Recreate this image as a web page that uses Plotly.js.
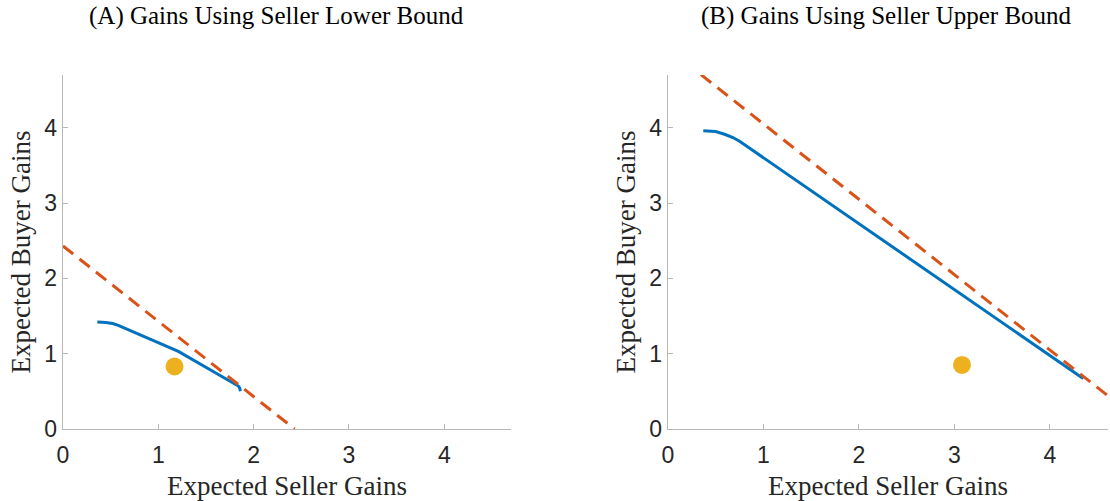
<!DOCTYPE html>
<html>
<head>
<meta charset="utf-8">
<script src="https://cdn.plot.ly/plotly-3.0.1.min.js"></script>
<style>html,body{margin:0;padding:0;background:#fff;}#chart{width:1110px;height:501px;}</style>
</head>
<body>
<div id="chart"></div>
<script>
// Panel A: Gains Using Seller Lower Bound
const frontierA_seller = [0.36, 0.45, 0.52, 0.58, 1.21, 1.84, 1.855, 1.86];
const frontierA_buyer  = [1.42, 1.415, 1.40, 1.375, 1.03, 0.57, 0.54, 0.50];
const boundA_seller = [0, 2.43];
const boundA_buyer  = [2.43, 0];
const pointA_seller = [1.17];
const pointA_buyer  = [0.83];

// Panel B: Gains Using Seller Upper Bound
const frontierB_seller = [0.37, 0.50, 0.60, 0.68, 0.75, 4.35];
const frontierB_buyer  = [3.96, 3.95, 3.91, 3.87, 3.82, 0.67];
const boundB_seller = [0, 4.7];
const boundB_buyer  = [5.05, 0.35];
const pointB_seller = [3.08];
const pointB_buyer  = [0.85];

const titles = ["(A) Gains Using Seller Lower Bound", "(B) Gains Using Seller Upper Bound"];
const xTitle = "Expected Seller Gains";
const yTitle = "Expected Buyer Gains";
const tickVals = [0, 1, 2, 3, 4];

const BLUE = '#0072BD', ORANGE = '#D95319', YELLOW = '#EDB120';
const serif = '"Liberation Serif", "DejaVu Serif", serif';
const sans = '"Liberation Sans", Arial, sans-serif';

function frontier(x, y, ax) {
  return {x: x, y: y, xaxis: ax[0], yaxis: ax[1], mode: 'lines', type: 'scatter',
    line: {color: BLUE, width: 3}, hoverinfo: 'skip', showlegend: false};
}
function bound(x, y, ax) {
  return {x: x, y: y, xaxis: ax[0], yaxis: ax[1], mode: 'lines', type: 'scatter',
    line: {color: ORANGE, width: 3, dash: '13px,8px'}, hoverinfo: 'skip', showlegend: false};
}
function point(x, y, ax) {
  return {x: x, y: y, xaxis: ax[0], yaxis: ax[1], mode: 'markers', type: 'scatter',
    marker: {color: YELLOW, size: 18}, hoverinfo: 'skip', showlegend: false};
}

const data = [
  frontier(frontierA_seller, frontierA_buyer, ['x', 'y']),
  bound(boundA_seller, boundA_buyer, ['x', 'y']),
  point(pointA_seller, pointA_buyer, ['x', 'y']),
  frontier(frontierB_seller, frontierB_buyer, ['x2', 'y2']),
  bound(boundB_seller, boundB_buyer, ['x2', 'y2']),
  point(pointB_seller, pointB_buyer, ['x2', 'y2'])
];

const W = 1110, H = 501;
function axisCommon() {
  return {
    showline: true, linecolor: '#b8b8b8', linewidth: 1.3,
    ticks: 'inside', ticklen: 5, tickcolor: '#b8b8b8', tickwidth: 1,
    showgrid: false, zeroline: false, mirror: false,
    tickfont: {family: sans, size: 23, color: '#262626'},
    tickvals: tickVals, fixedrange: true
  };
}
const yDom = [(H - 429) / H, (H - 75) / H];
const axTitleFont = {family: serif, size: 27, color: '#262626'};

const layout = {
  width: W, height: H,
  margin: {l: 0, r: 0, t: 0, b: 0},
  paper_bgcolor: '#fff', plot_bgcolor: '#fff',
  showlegend: false,
  xaxis: Object.assign(axisCommon(), {domain: [63 / W, 511 / W], range: [0, 4.7], anchor: 'y',
    ticklabelstandoff: 5, title: {text: xTitle, font: axTitleFont, standoff: 10}}),
  yaxis: Object.assign(axisCommon(), {domain: yDom, range: [0, 4.7], anchor: 'x',
    title: {text: yTitle, font: axTitleFont, standoff: 6}}),
  xaxis2: Object.assign(axisCommon(), {domain: [668 / W, 1108 / W], range: [0, 4.61], anchor: 'y2',
    ticklabelstandoff: 5, title: {text: xTitle, font: axTitleFont, standoff: 10}}),
  yaxis2: Object.assign(axisCommon(), {domain: yDom, range: [0, 4.7], anchor: 'x2',
    title: {text: yTitle, font: axTitleFont, standoff: 6}}),
  annotations: [
    {text: titles[0], x: 276 / W, y: 1 - 16 / H, xref: 'paper', yref: 'paper',
     xanchor: 'center', yanchor: 'middle', showarrow: false, font: {family: serif, size: 25, color: '#000'}},
    {text: titles[1], x: 886 / W, y: 1 - 16 / H, xref: 'paper', yref: 'paper',
     xanchor: 'center', yanchor: 'middle', showarrow: false, font: {family: serif, size: 25, color: '#000'}}
  ]
};

Plotly.newPlot('chart', data, layout, {staticPlot: true, displayModeBar: false});
</script>
</body>
</html>
